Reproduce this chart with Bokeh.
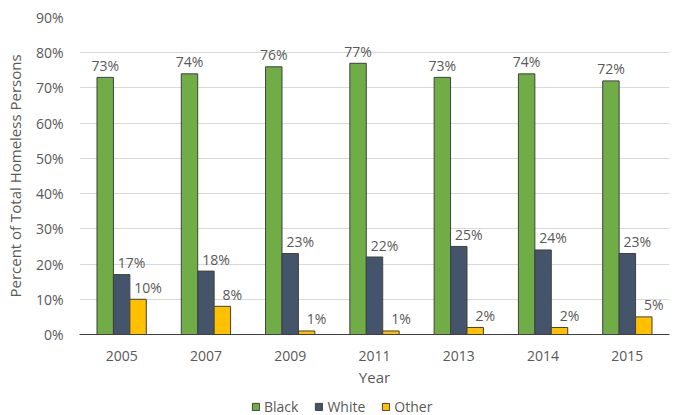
from bokeh.plotting import figure
from bokeh.layouts import column
from bokeh.models import Range1d, FixedTicker, Legend, LegendItem, ColumnDataSource
from bokeh.core.properties import value
from bokeh.embed import file_html
from bokeh.resources import INLINE

years = ["2005", "2007", "2009", "2011", "2013", "2014", "2015"]
black = [73, 74, 76, 77, 73, 74, 72]
white = [17, 18, 23, 22, 25, 24, 23]
other = [10, 8, 1, 1, 2, 2, 5]
series_names = ["Black", "White", "Other"]
y_ticks = [0, 10, 20, 30, 40, 50, 60, 70, 80, 90]

colors = ["#70AD47", "#44546A", "#FFC000"]
offsets = [-0.195, 0.0, 0.195]
label_dx = [0, 10, 10]
FONT = "Open Sans"
GRAY = "#595959"

p = figure(width=683, height=395, output_backend="svg", toolbar_location=None,
           x_range=Range1d(0, len(years)), y_range=Range1d(0, 90),
           min_border_left=79, min_border_right=14, min_border_top=17, min_border_bottom=61)
p.outline_line_color = None
p.background_fill_color = "white"
p.border_fill_color = "white"

p.xgrid.grid_line_color = None
p.ygrid.grid_line_color = "#D9D9D9"
p.ygrid.grid_line_width = 1

series_vals = [black, white, other]
for k, (name, vals) in enumerate(zip(series_names, series_vals)):
    xs = [i + 0.5 + offsets[k] for i in range(len(years))]
    src = ColumnDataSource(dict(x=xs, top=vals, lab=[f"{v}%" for v in vals]))
    p.vbar(x="x", top="top", bottom=0, width=0.195, source=src,
           fill_color=colors[k], line_color="#404040", line_width=1)
    p.text(x="x", y="top", text="lab", source=src, x_offset=label_dx[k], y_offset=-12,
           text_align="center", text_baseline="alphabetic",
           text_font=value(FONT), text_font_size="14px", text_color=GRAY)

p.yaxis.ticker = FixedTicker(ticks=y_ticks)
p.yaxis.major_label_overrides = {t: f"{t}%" for t in y_ticks}
p.yaxis.axis_line_color = None
p.yaxis.major_tick_line_color = None
p.yaxis.minor_tick_line_color = None
p.yaxis.major_tick_out = 0
p.yaxis.major_label_standoff = 16
p.yaxis.major_label_text_font = FONT
p.yaxis.major_label_text_font_size = "14px"
p.yaxis.major_label_text_color = GRAY
p.yaxis.axis_label = "Percent of Total Homeless Persons"
p.yaxis.axis_label_text_font = FONT
p.yaxis.axis_label_text_font_size = "15px"
p.yaxis.axis_label_text_font_style = "normal"
p.yaxis.axis_label_text_color = GRAY
p.yaxis.axis_label_standoff = 8

xt = [i + 0.5 for i in range(len(years))]
p.xaxis.ticker = FixedTicker(ticks=xt)
p.xaxis.major_label_overrides = {t: y for t, y in zip(xt, years)}
p.xaxis.axis_line_color = "#404040"
p.xaxis.axis_line_width = 1
p.xaxis.major_tick_line_color = None
p.xaxis.minor_tick_line_color = None
p.xaxis.major_tick_out = 0
p.xaxis.major_label_standoff = 16
p.xaxis.major_label_text_font = FONT
p.xaxis.major_label_text_font_size = "14px"
p.xaxis.major_label_text_color = GRAY
p.xaxis.axis_label = "Year"
p.xaxis.axis_label_text_font = FONT
p.xaxis.axis_label_text_font_size = "15px"
p.xaxis.axis_label_text_font_style = "normal"
p.xaxis.axis_label_text_color = GRAY
p.xaxis.axis_label_standoff = 3

# legend strip below the chart (its bars lie outside the strip's visible range)
lg = figure(width=683, height=20, output_backend="svg", toolbar_location=None,
            x_range=Range1d(0, len(years)), y_range=Range1d(1000, 1001),
            min_border_left=0, min_border_right=0, min_border_top=0, min_border_bottom=0)
lg.axis.visible = False
lg.grid.visible = False
lg.outline_line_color = None
items = []
for k, (name, vals) in enumerate(zip(series_names, series_vals)):
    xs = [i + 0.5 + offsets[k] for i in range(len(years))]
    r = lg.vbar(x=xs, top=vals, bottom=0, width=0.195,
                fill_color=colors[k], line_color="#404040", line_width=1)
    items.append(LegendItem(label=name, renderers=[r]))
legend = Legend(items=items, orientation="horizontal", location=(172, -1),
                glyph_width=9, glyph_height=9, label_standoff=4, spacing=16,
                label_text_font=FONT, label_text_font_size="14px", label_text_color=GRAY,
                border_line_color=None, background_fill_alpha=0, padding=0, margin=0)
lg.add_layout(legend, "center")

layout = column(p, lg, spacing=0)
open("out.html", "w").write(file_html(layout, INLINE))
